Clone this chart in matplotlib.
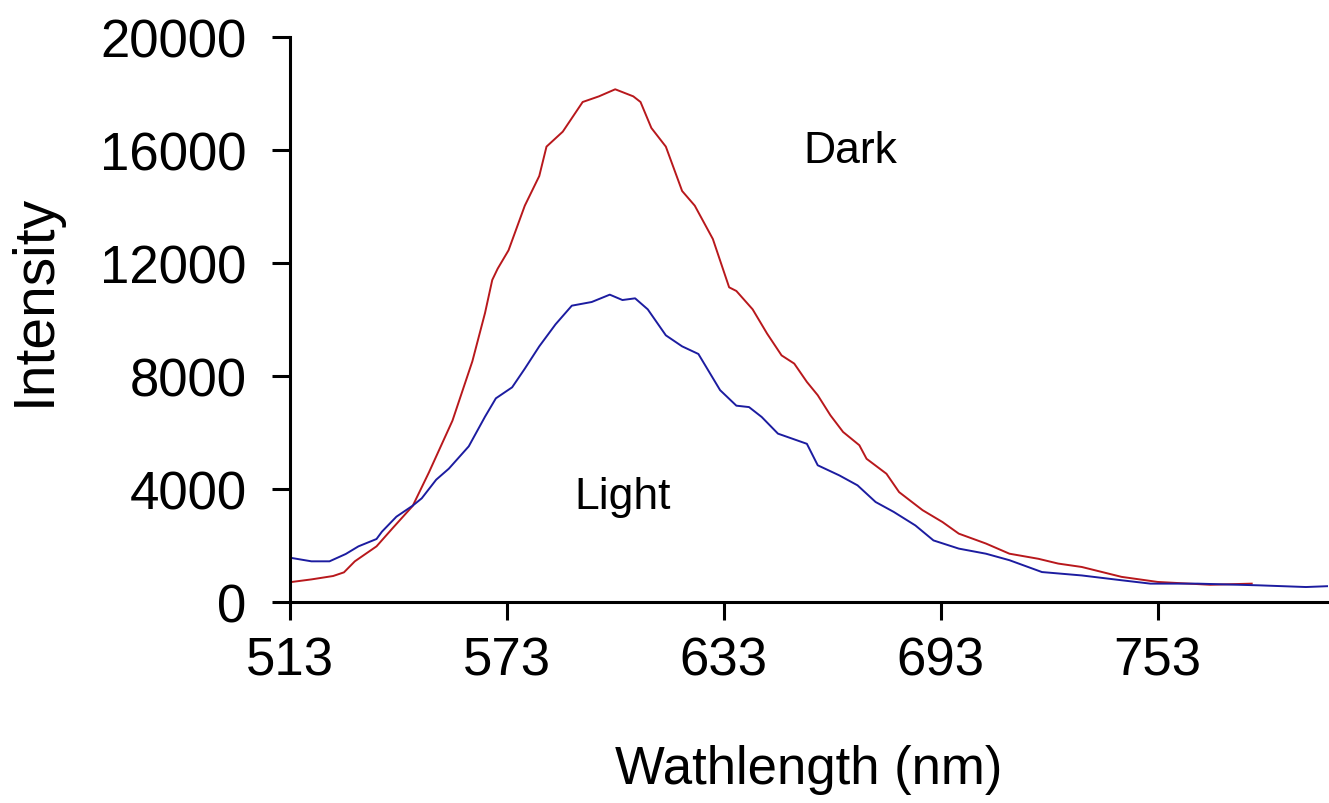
import matplotlib
matplotlib.use("Agg")
import matplotlib.pyplot as plt

# Dark spectrum (red)
dark_wl = [513, 519, 525, 528, 531, 537, 541.5, 547, 551.5, 558, 563.5, 567, 569, 570.5,
           573.5, 578, 582, 584, 588.5, 594, 598.5, 603, 608, 610, 613, 617, 621.5, 625,
           630, 634.5, 636.5, 641, 645, 649, 652.5, 656, 659, 662.5, 666, 670.5, 672.5,
           678, 681.5, 688, 693.5, 698, 705.5, 712, 720, 725.5, 732, 743, 753, 767.5, 779]
dark_int = [700, 800, 920, 1050, 1440, 1970, 2620, 3400, 4590, 6420, 8520, 10230, 11400,
            11800, 12450, 14030, 15080, 16120, 16650, 17700, 17900, 18150, 17900, 17700,
            16780, 16120, 14550, 14030, 12850, 11140, 11010, 10360, 9500, 8730, 8440, 7790,
            7320, 6610, 6020, 5550, 5070, 4540, 3890, 3250, 2830, 2420, 2070, 1710, 1530,
            1360, 1240, 890, 710, 610, 650]

# Light spectrum (blue)
light_wl = [513, 519, 524, 528.5, 532, 537, 538.5, 542.5, 547, 549.5, 553.5, 557, 562.5,
            567, 570, 574.5, 578, 582, 586.5, 591, 596.5, 601.5, 605, 608.5, 612, 617,
            621.5, 626, 632, 636.5, 640, 643.5, 648, 656, 659, 665, 670, 675, 680, 686,
            691, 698, 705.5, 712, 721, 732, 743, 751, 764, 781, 794, 800]
light_int = [1570, 1440, 1440, 1700, 1970, 2230, 2490, 3020, 3410, 3670, 4330, 4720, 5510,
             6560, 7210, 7600, 8260, 9050, 9830, 10490, 10620, 10880, 10690, 10750, 10360,
             9440, 9050, 8780, 7500, 6950, 6900, 6550, 5960, 5600, 4840, 4480, 4130, 3540,
             3190, 2710, 2180, 1890, 1710, 1480, 1060, 940, 770, 650, 650, 590, 530, 560]

x_ticks = [513, 573, 633, 693, 753]
y_ticks = [0, 4000, 8000, 12000, 16000, 20000]

plt.rcParams['font.family'] = ['Liberation Sans', 'DejaVu Sans']

fig = plt.figure(figsize=(13.29, 8.04), dpi=100)
ax = fig.add_axes([0.218, 0.25, 0.781, 0.7027])

ax.plot(dark_wl, dark_int, color='#b8181c', lw=1.4)
ax.plot(light_wl, light_int, color='#1c1ca0', lw=1.4)

ax.set_xlim(513, 800)
ax.set_ylim(0, 20000)
ax.set_xticks(x_ticks)
ax.set_yticks(y_ticks)
ax.set_xticklabels([str(v) for v in x_ticks])
ax.set_yticklabels([str(v) for v in y_ticks])

for s in ['top', 'right']:
    ax.spines[s].set_visible(False)
for s in ['left', 'bottom']:
    ax.spines[s].set_linewidth(2.2)

ax.tick_params(axis='y', length=13, width=2.2, labelsize=38, pad=18, colors='black')
ax.tick_params(axis='x', length=13, width=2.2, labelsize=38, pad=11, colors='black')

ax.set_xlabel('Wathlength (nm)', fontsize=38, labelpad=42)
fig.text(35 / 1329, 1 - 300 / 804, 'Intensity', fontsize=41, rotation=90,
         ha='center', va='center')

ax.text(668, 16000, 'Dark', fontsize=32, ha='center', va='center')
ax.text(605, 3750, 'Light', fontsize=32, ha='center', va='center')

fig.savefig('out.png', dpi=100, facecolor='white')
